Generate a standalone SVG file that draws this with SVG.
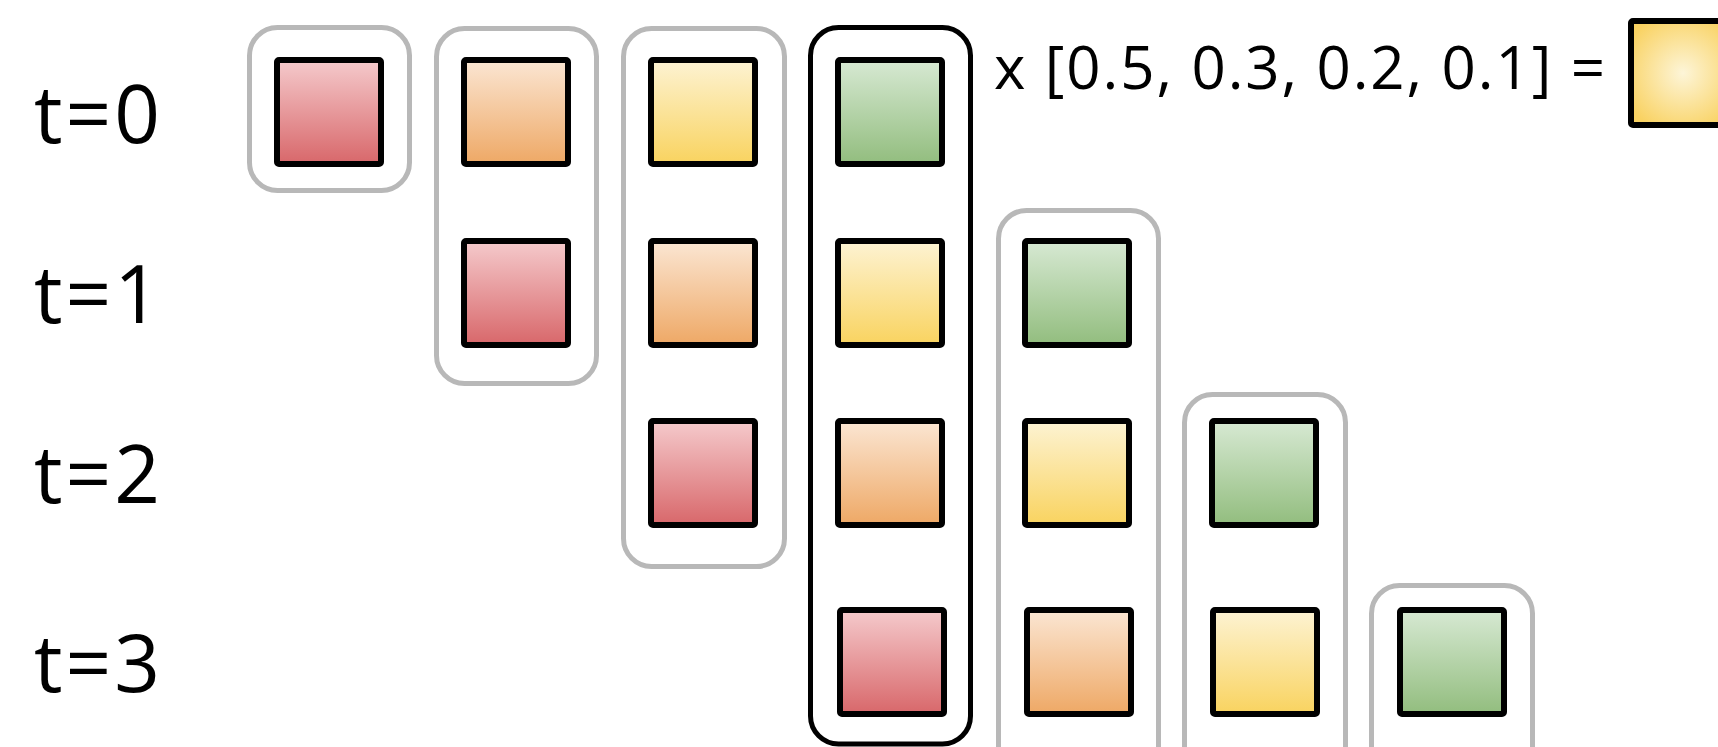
<svg xmlns="http://www.w3.org/2000/svg" width="1718" height="747" viewBox="0 0 1718 747">
  <defs>
    <linearGradient id="gRed" x1="0" y1="0" x2="0" y2="1">
      <stop offset="0" stop-color="#f5cacc"/>
      <stop offset="1" stop-color="#d8676a"/>
    </linearGradient>
    <linearGradient id="gOrange" x1="0" y1="0" x2="0" y2="1">
      <stop offset="0" stop-color="#fbe6d3"/>
      <stop offset="1" stop-color="#eea865"/>
    </linearGradient>
    <linearGradient id="gYellow" x1="0" y1="0" x2="0" y2="1">
      <stop offset="0" stop-color="#fdf3d3"/>
      <stop offset="1" stop-color="#f9d35f"/>
    </linearGradient>
    <linearGradient id="gGreen" x1="0" y1="0" x2="0" y2="1">
      <stop offset="0" stop-color="#d7e9d3"/>
      <stop offset="1" stop-color="#92bd7e"/>
    </linearGradient>
    <radialGradient id="gYellowR" cx="0.5" cy="0.5" r="0.6">
      <stop offset="0" stop-color="#fdf5d8"/>
      <stop offset="1" stop-color="#f9d262"/>
    </radialGradient>
  </defs>
  <style>
    .sq { stroke: #000; stroke-width: 6; }
    .red { fill: url(#gRed); }
    .orange { fill: url(#gOrange); }
    .yellow { fill: url(#gYellow); }
    .green { fill: url(#gGreen); }
    .frame { fill: none; stroke: #b8b8b8; stroke-width: 5; }
    .frameSel { fill: none; stroke: #000; stroke-width: 5; }
    .lbl { font-family: "Open Sans", "DejaVu Sans", sans-serif; font-size: 80px; letter-spacing: 3px; fill: #000; }
    .eq { font-family: "Open Sans", "DejaVu Sans", sans-serif; font-size: 60px; fill: #000; }
  </style>
  <rect width="1718" height="747" fill="#fff"/>

  <g id="labels">
    <text class="lbl" x="34" y="143">t=0</text>
    <text class="lbl" x="34" y="323">t=1</text>
    <text class="lbl" x="34" y="503">t=2</text>
    <text class="lbl" x="34" y="692">t=3</text>
  </g>

  <g id="frames">
    <rect id="frame-c0" class="frame" x="249.5" y="27.5" width="160" height="163" rx="28"/>
    <rect id="frame-c1" class="frame" x="436.5" y="28.5" width="160" height="355" rx="28"/>
    <rect id="frame-c2" class="frame" x="623.5" y="28.5" width="161" height="538" rx="28"/>
    <rect id="frame-c3" class="frameSel" x="810.5" y="27.5" width="160" height="716.5" rx="28"/>
    <rect id="frame-c4" class="frame" x="998.5" y="210.5" width="160" height="600" rx="28"/>
    <rect id="frame-c5" class="frame" x="1184.5" y="394.5" width="161" height="420" rx="28"/>
    <rect id="frame-c6" class="frame" x="1371.5" y="585.5" width="161" height="240" rx="28"/>
  </g>

  <g id="row0">
    <rect id="r0c0" class="sq red" x="277" y="60" width="104" height="104" rx="2"/>
    <rect id="r0c1" class="sq orange" x="464" y="60" width="104" height="104" rx="2"/>
    <rect id="r0c2" class="sq yellow" x="651" y="60" width="104" height="104" rx="2"/>
    <rect id="r0c3" class="sq green" x="838" y="60" width="104" height="104" rx="2"/>
  </g>
  <g id="row1">
    <rect id="r1c1" class="sq red" x="464" y="241" width="104" height="104" rx="2"/>
    <rect id="r1c2" class="sq orange" x="651" y="241" width="104" height="104" rx="2"/>
    <rect id="r1c3" class="sq yellow" x="838" y="241" width="104" height="104" rx="2"/>
    <rect id="r1c4" class="sq green" x="1025" y="241" width="104" height="104" rx="2"/>
  </g>
  <g id="row2">
    <rect id="r2c2" class="sq red" x="651" y="421" width="104" height="104" rx="2"/>
    <rect id="r2c3" class="sq orange" x="838" y="421" width="104" height="104" rx="2"/>
    <rect id="r2c4" class="sq yellow" x="1025" y="421" width="104" height="104" rx="2"/>
    <rect id="r2c5" class="sq green" x="1212" y="421" width="104" height="104" rx="2"/>
  </g>
  <g id="row3">
    <rect id="r3c3" class="sq red" x="840" y="610" width="104" height="104" rx="2"/>
    <rect id="r3c4" class="sq orange" x="1027" y="610" width="104" height="104" rx="2"/>
    <rect id="r3c5" class="sq yellow" x="1213" y="610" width="104" height="104" rx="2"/>
    <rect id="r3c6" class="sq green" x="1400" y="610" width="104" height="104" rx="2"/>
  </g>

  <g id="equation">
    <text class="eq" x="994" y="89" textLength="611" lengthAdjust="spacing">x [0.5, 0.3, 0.2, 0.1] =</text>
  </g>
  <g id="result">
    <rect class="sq" fill="url(#gYellowR)" x="1631" y="21" width="104" height="104" rx="2"/>
  </g>
</svg>
